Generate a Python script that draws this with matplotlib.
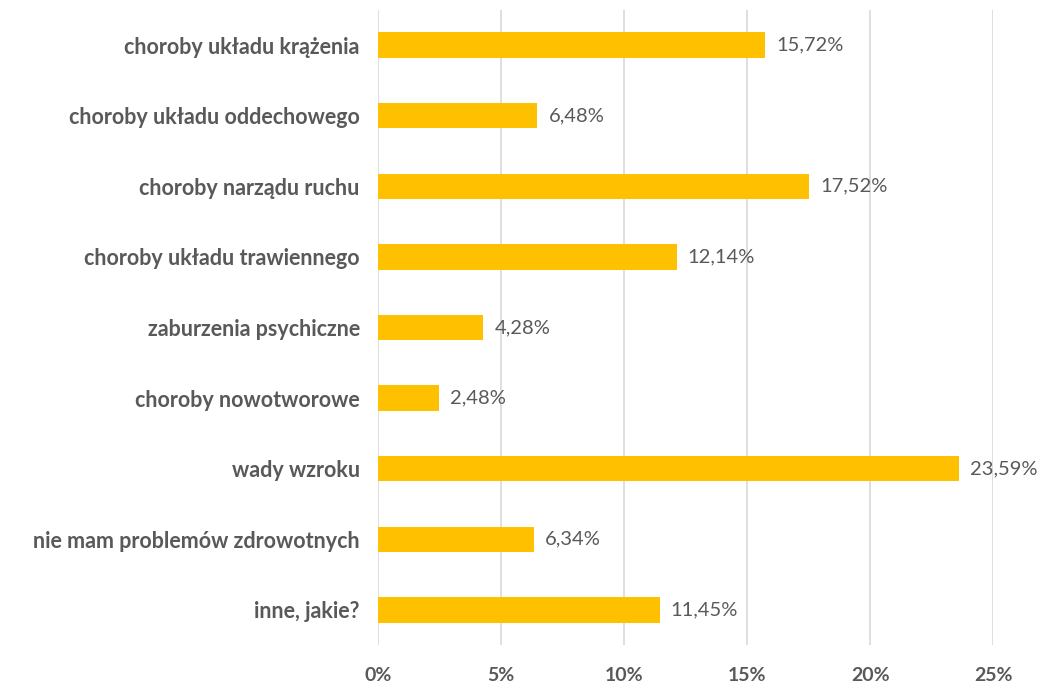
import matplotlib.pyplot as plt

categories = [
    "choroby układu krążenia",
    "choroby układu oddechowego",
    "choroby narządu ruchu",
    "choroby układu trawiennego",
    "zaburzenia psychiczne",
    "choroby nowotworowe",
    "wady wzroku",
    "nie mam problemów zdrowotnych",
    "inne, jakie?",
]
values = [15.72, 6.48, 17.52, 12.14, 4.28, 2.48, 23.59, 6.34, 11.45]
xticks = [0, 5, 10, 15, 20, 25]

plt.rcParams['font.family'] = ['Lato', 'DejaVu Sans']
text_color = '#595959'

fig = plt.figure(figsize=(10.38, 6.93), dpi=100)
ax = fig.add_axes([0.364, 0.069, 0.593, 0.917])

pos = list(range(len(categories)))
ax.barh(pos, values, height=0.36, color='#FFC000', zorder=3)

# value labels next to each bar
for y, v in zip(pos, values):
    ax.text(v + 0.45, y, f"{v:.2f}%".replace('.', ','), va='center', ha='left',
            fontsize=14.5, color=text_color, zorder=4)

ax.set_ylim(len(categories) - 0.5, -0.5)
ax.set_yticks(pos)
ax.set_yticklabels(categories, fontsize=15.5, fontweight='bold', color=text_color)
ax.set_xlim(0, 25)
ax.set_xticks(xticks)
ax.set_xticklabels([f"{t}%" for t in xticks], fontsize=14, fontweight='bold', color=text_color)

ax.grid(axis='x', color='#D9D9D9', linewidth=1.2, zorder=0)
for s in ax.spines.values():
    s.set_visible(False)
ax.tick_params(length=0)
ax.tick_params(axis='y', pad=13)
ax.tick_params(axis='x', pad=16)

fig.savefig('out.png', dpi=100)
